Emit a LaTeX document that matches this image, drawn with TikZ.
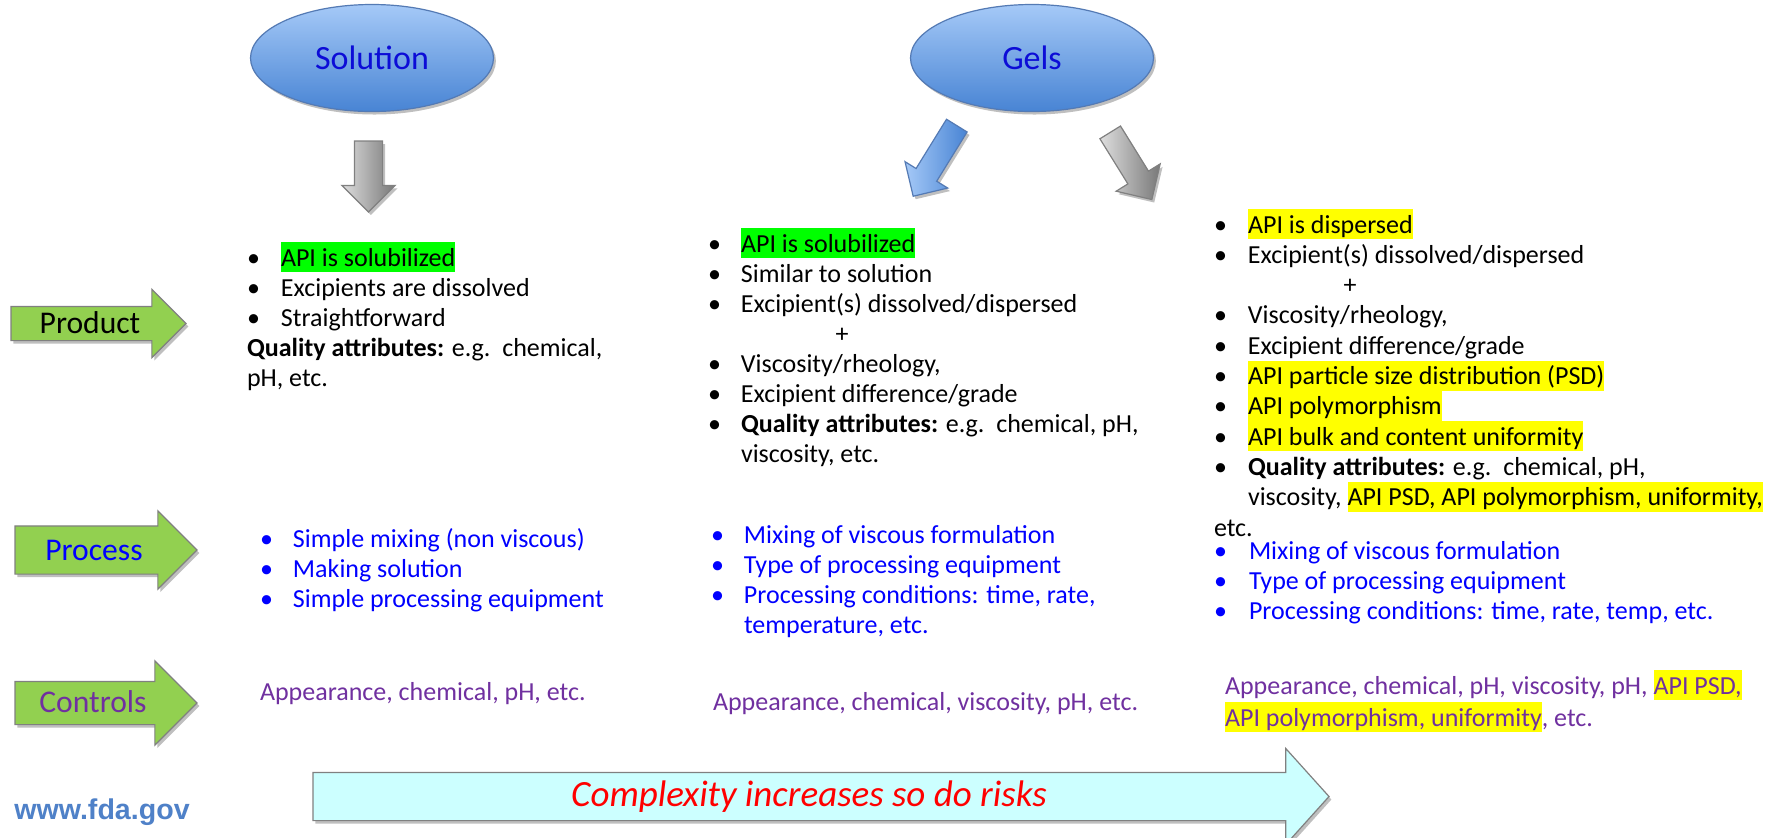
\documentclass[tikz,border=0pt]{standalone}
\usepackage{fontspec}
\setmainfont{Carlito}
\newfontfamily\arialfont{Liberation Sans}
\usetikzlibrary{shapes.geometric,shapes.arrows,shadows}
\definecolor{hlgreen}{RGB}{0,255,0}
\definecolor{hlyellow}{RGB}{255,255,0}
\definecolor{procblue}{RGB}{0,0,255}
\definecolor{ctrlpurple}{RGB}{112,48,160}
\definecolor{titleblue}{RGB}{12,12,215}
\definecolor{arrgreen}{RGB}{146,208,80}
\definecolor{arrcyan}{RGB}{204,255,255}
\definecolor{fdablue}{RGB}{79,129,200}
\definecolor{elltop}{RGB}{165,201,247}
\definecolor{ellbot}{RGB}{72,132,212}
\definecolor{ellline}{RGB}{84,122,180}
\definecolor{graylight}{RGB}{222,222,222}
\definecolor{graydark}{RGB}{120,120,120}
\definecolor{grayline}{RGB}{128,128,128}
\definecolor{riskred}{RGB}{255,0,0}
\newcommand\hlstrut{\rule[-0.231em]{0pt}{1.154em}}
\newcommand\hlg[1]{{\setlength\fboxsep{0pt}\colorbox{hlgreen}{\hlstrut#1}}}
\newcommand\hly[1]{{\setlength\fboxsep{0pt}\colorbox{hlyellow}{\hlstrut#1}}}
\newcommand\bl[2]{\makebox[#1][l]{\textbullet}#2}
\newcommand\fs{\rule{0pt}{12pt}}
\newcommand\fss{\rule{0pt}{10pt}}
\begin{document}
\begin{tikzpicture}[x=0.5pt,y=-0.5pt,
  shad/.style={drop shadow={shadow xshift=1.2pt,shadow yshift=-1.5pt,opacity=0.25,fill=black}},
  ell/.style={ellipse,draw=ellline,line width=0.6pt,top color=elltop,bottom color=ellbot,
    minimum width=121.5pt,minimum height=53.5pt,inner sep=0pt,text=titleblue,
    font=\fontsize{17}{20}\selectfont,shad},
  blockarrow/.style={single arrow,anchor=tail,inner xsep=0pt,outer sep=0pt,line width=0.6pt,shad},
  grayarrow/.style={blockarrow,draw=grayline,left color=graylight,right color=graydark},
  bluearrow/.style={blockarrow,draw=ellline,left color=elltop,right color=ellbot},
  greenarrow/.style={blockarrow,draw=grayline,fill=arrgreen},
  cyanarrow/.style={blockarrow,draw=grayline,fill=arrcyan},
  lbl/.style={inner sep=0pt,font=\fontsize{15.8}{18}\selectfont},
  txt/.style={inner sep=0pt,outer sep=0pt,align=left,anchor=north west,font=\fontsize{13}{15}\selectfont},
  txtb/.style={txt,font=\fontsize{13}{15.15}\selectfont}]
\useasboundingbox (0,0) rectangle (1774,837);
\fill[white] (0,0) rectangle (1774,837);

% title ellipses
\node[ell] (sol) at (372,58) {Solution};
\node[ell] (gel) at (1032,58) {Gels};

% arrows below titles
\node[grayarrow,rotate=-90,minimum height=35.5pt,inner ysep=6.75pt,single arrow head extend=6.25pt] (soldown) at (368.5,141) {};
\node[bluearrow,rotate=-121.7,minimum height=41.5pt,inner ysep=5.75pt,single arrow head extend=6.5pt] (gelleft) at (956.8,125.6) {};
\node[grayarrow,rotate=-58.2,minimum height=39.5pt,inner ysep=5.75pt,single arrow head extend=6.9pt] (gelright) at (1110.2,132.4) {};

% left green arrows
\node[greenarrow,minimum height=87.5pt,inner ysep=8.25pt,single arrow head extend=8.5pt] (prodarrow) at (11,323.5) {};
\node[lbl] (prodlbl) at (90,323) {Product};
\node[greenarrow,minimum height=91pt,inner ysep=11.75pt,single arrow head extend=7.5pt] (procarrow) at (15,550) {};
\node[lbl,text=procblue] (proclbl) at (94,550) {Process};
\node[greenarrow,minimum height=91pt,inner ysep=10.5pt,single arrow head extend=10.25pt] (ctrlarrow) at (15,703) {};
\node[lbl,text=ctrlpurple] (ctrllbl) at (93,702) {Controls};

% product texts
\node[txt] (prod1) at (247,242) {\fs\bl{17pt}{\hlg{API is solubilized}}\\
\bl{17pt}{Excipients are dissolved}\\
\bl{17pt}{Straightforward}\\
\textbf{Quality attributes:} e.g.\ \ chemical,\\
pH, etc.};

\node[txt] (prod2) at (708,228) {\fs\bl{16.5pt}{\hlg{API is solubilized}}\\
\bl{16.5pt}{Similar to solution}\\
\bl{16.5pt}{Excipient(s) dissolved/dispersed}\\
\hspace*{63.75pt}+\\
\bl{16.5pt}{Viscosity/rheology,}\\
\bl{16.5pt}{Excipient difference/grade}\\
\bl{16.5pt}{\textbf{Quality attributes:} e.g.\ \ chemical, pH,}\\
\hspace*{16.5pt}viscosity, etc.};

\node[txtb] (prod3) at (1214,209) {\fs\bl{17pt}{\hly{API is dispersed}}\\
\bl{17pt}{Excipient(s) dissolved/dispersed}\\
\hspace*{64.75pt}+\\
\bl{17pt}{Viscosity/rheology,}\\
\bl{17pt}{Excipient difference/grade}\\
\bl{17pt}{\hly{API particle size distribution (PSD)}}\\
\bl{17pt}{\hly{API polymorphism}}\\
\bl{17pt}{\hly{API bulk and content uniformity}}\\
\bl{17pt}{\textbf{Quality attributes:} e.g.\ \ chemical, pH,}\\
\hspace*{17pt}viscosity, \hly{API PSD, API polymorphism, uniformity,}\\
etc.};

% process texts
\node[txt,text=procblue] (proc1) at (260,523) {\fs\bl{16.5pt}{Simple mixing (non viscous)}\\
\bl{16.5pt}{Making solution}\\
\bl{16.5pt}{Simple processing equipment}};

\node[txt,text=procblue] (proc2) at (711,519) {\fs\bl{16.5pt}{Mixing of viscous formulation}\\
\bl{16.5pt}{Type of processing equipment}\\
\bl{16.5pt}{Processing conditions: time, rate,}\\
\hspace*{16.5pt}temperature, etc.};

\node[txt,text=procblue] (proc3) at (1214,539) {\fss\bl{17.5pt}{Mixing of viscous formulation}\\
\bl{17.5pt}{Type of processing equipment}\\
\bl{17.5pt}{Processing conditions: time, rate, temp, etc.}};

% controls texts
\node[txt,text=ctrlpurple] (ctrl1) at (260,676) {\fs Appearance, chemical, pH, etc.};
\node[txt,text=ctrlpurple] (ctrl2) at (713,686) {\fs Appearance, chemical, viscosity, pH, etc.};
\node[txt,text=ctrlpurple] (ctrl3) at (1225,670) {\fs Appearance, chemical, pH, viscosity, pH, \hly{API PSD,}\\
\hly{API polymorphism, uniformity}, etc.};

% bottom arrow
\node[cyanarrow,minimum height=508pt,inner ysep=11.75pt,single arrow head extend=12pt,single arrow tip angle=96] (riskarrow) at (313,796.5) {};
\node[inner sep=0pt,text=riskred,font=\itshape\fontsize{18.5}{22}\selectfont] (risklbl) at (809,797) {Complexity increases so do risks};

\node[inner sep=0pt,text=fdablue,font=\arialfont\bfseries\fontsize{14.3}{16}\selectfont] (fda) at (102,812) {www.fda.gov};
\end{tikzpicture}
\end{document}
